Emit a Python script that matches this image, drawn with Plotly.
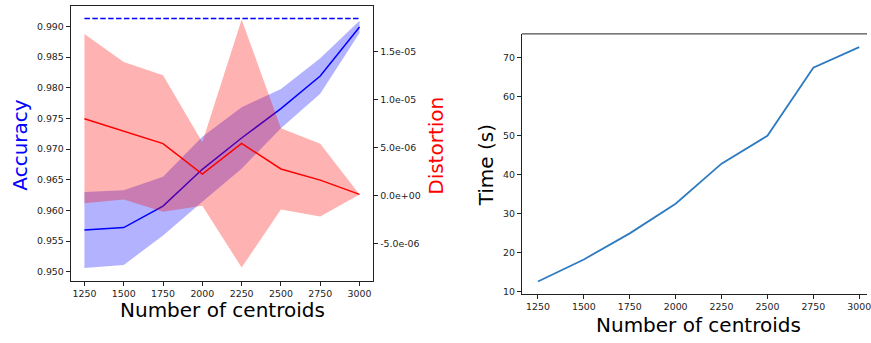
import plotly.graph_objects as go

# ---------------- data ----------------
centroids = [1250, 1500, 1750, 2000, 2250, 2500, 2750, 3000]
acc_mean = [0.9568, 0.9572, 0.9607, 0.9667, 0.9718, 0.9766, 0.9819, 0.9899]
acc_std = [0.0062, 0.0061, 0.0048, 0.0053, 0.0050, 0.0032, 0.0029, 0.0010]
baseline_acc = 0.9913
dist_mean = [8.0e-6, 6.75e-6, 5.42e-6, 2.25e-6, 5.43e-6, 2.78e-6, 1.62e-6, 0.13e-6]
dist_std = [8.8e-6, 7.15e-6, 7.1e-6, 3.3e-6, 12.9e-6, 4.23e-6, 3.78e-6, 0.0]
time_s = [12.67, 18.32, 25.0, 32.6, 42.85, 49.98, 67.4, 72.67]

x_ticks = [1250, 1500, 1750, 2000, 2250, 2500, 2750, 3000]
acc_ticks = [0.950, 0.955, 0.960, 0.965, 0.970, 0.975, 0.980, 0.985, 0.990]
dist_ticks = [-5e-6, 0.0, 5e-6, 1e-5, 1.5e-5]
dist_ticktext = ["-5.0e-06", "0.0e+00", "5.0e-06", "1.0e-05", "1.5e-05"]
time_ticks = [10, 20, 30, 40, 50, 60, 70]

# ---------------- layout helpers ----------------
W, H = 871, 343
FONT = "DejaVu Sans"


def px(x, y):
    return x / W, 1 - y / H


def band(xs, mean, std):
    up = [m + s for m, s in zip(mean, std)]
    lo = [m - s for m, s in zip(mean, std)]
    return xs + xs[::-1], up + lo[::-1]


fig = go.Figure()

# accuracy band + line
bx, by = band(centroids, acc_mean, acc_std)
fig.add_trace(go.Scatter(x=bx, y=by, fill="toself", fillcolor="rgba(0,0,255,0.3)",
                         line=dict(width=0), mode="lines", hoverinfo="skip",
                         xaxis="x", yaxis="y", showlegend=False))
fig.add_trace(go.Scatter(x=centroids, y=acc_mean, mode="lines",
                         line=dict(color="blue", width=1.5),
                         xaxis="x", yaxis="y", showlegend=False))
fig.add_trace(go.Scatter(x=[centroids[0], centroids[-1]], y=[baseline_acc, baseline_acc],
                         mode="lines", line=dict(color="blue", width=1.5, dash="5.5px,2.4px"),
                         xaxis="x", yaxis="y", showlegend=False))

# distortion band + line
dx, dy = band(centroids, dist_mean, dist_std)
fig.add_trace(go.Scatter(x=dx, y=dy, fill="toself", fillcolor="rgba(255,0,0,0.3)",
                         line=dict(width=0), mode="lines", hoverinfo="skip",
                         xaxis="x", yaxis="y2", showlegend=False))
fig.add_trace(go.Scatter(x=centroids, y=dist_mean, mode="lines",
                         line=dict(color="red", width=1.5),
                         xaxis="x", yaxis="y2", showlegend=False))

# time
fig.add_trace(go.Scatter(x=centroids, y=time_s, mode="lines",
                         line=dict(color="#2f7bc0", width=1.8),
                         xaxis="x2", yaxis="y3", showlegend=False))

axis_common = dict(showgrid=False, zeroline=False, showline=True, linecolor="#222",
                   linewidth=1, ticks="outside", ticklen=4, tickwidth=0.8,
                   tickcolor="#222", tickfont=dict(family=FONT, size=9.4, color="#222"))

L0, L1 = 71, 375
T0, B0 = 6, 284
R0 = 524.3
T1, B1 = 34.3, 297

fig.update_layout(
    width=W, height=H, margin=dict(l=0, r=0, t=0, b=0),
    paper_bgcolor="white", plot_bgcolor="white",
    xaxis=dict(domain=[L0 / W, L1 / W], range=[1162.5, 3087.5], tickvals=x_ticks,
               anchor="y", mirror=True, **axis_common),
    yaxis=dict(domain=[1 - B0 / H, 1 - T0 / H], range=[0.94854, 0.99333],
               tickvals=acc_ticks, tickformat=".3f", anchor="x", mirror=True, **axis_common),
    yaxis2=dict(range=[-8.84e-6, 19.73e-6], tickvals=dist_ticks, ticktext=dist_ticktext,
                overlaying="y", side="right", anchor="x", **axis_common),
    xaxis2=dict(domain=[R0 / W, 1.0], range=[1162.5, 3042.5], tickvals=x_ticks,
                anchor="y3", ticklabeloverflow="allow", **axis_common),
    yaxis3=dict(domain=[1 - B1 / H, 1 - T1 / H], range=[9.6, 76.05], tickvals=time_ticks,
                anchor="x2", **axis_common),
)

# top spine of right plot (right spine is outside the canvas)
fig.add_shape(type="line", xref="x2 domain", yref="y3 domain", x0=0, x1=1, y0=1, y1=1,
              line=dict(color="#222", width=1))

# axis titles
titles = [
    ("Accuracy", 20.5, 147, -90, "blue"),
    ("Distortion", 438.5, 147, -90, "red"),
    ("Number of centroids", 223.5, 314, 0, "black"),
    ("Time (s)", 488.5, 167, -90, "black"),
    ("Number of centroids", 702, 328.5, 0, "black"),
]
for text, x, y, ang, col in titles:
    ax, ay = px(x, y)
    fig.add_annotation(text=text, x=ax, y=ay, xref="paper", yref="paper",
                       xanchor="center", yanchor="middle", textangle=ang, showarrow=False,
                       borderpad=0, font=dict(family=FONT, size=20, color=col))

fig.write_html("out.html")
